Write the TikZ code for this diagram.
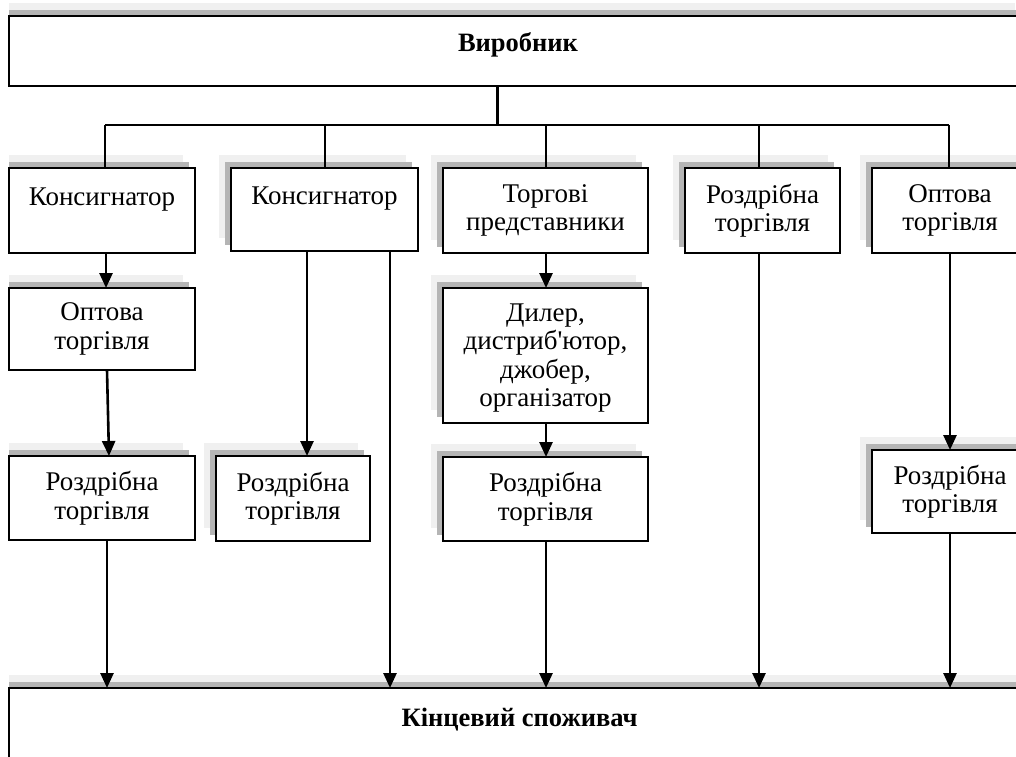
\documentclass[tikz,border=0pt]{standalone}
\usepackage{fontspec}
\setmainfont{Liberation Serif}
\usetikzlibrary{arrows.meta}
\definecolor{shlight}{gray}{0.94}
\definecolor{shdark}{gray}{0.71}
\tikzset{
  box/.style={draw, line width=2.2pt, fill=white, inner sep=0pt, outer sep=0pt, align=center,
    font=\fontsize{27}{28.5}\selectfont},
  bigbox/.style={box},
  boldtext/.style={font=\fontsize{26.5}{28}\selectfont\bfseries, anchor=base, inner sep=0pt},
  conn/.style={line width=2.2pt},
  arr/.style={line width=2.6pt, -{Triangle[length=15pt,width=13pt]}},
}
\newcommand{\shadowbox}[5]{%
  \fill[shlight] ({max(9,#1-12.5)},{#2-13}) rectangle ({#3-12.5},{#4-13});
  \fill[shdark] ({max(9,#1-6)},{#2-6}) rectangle ({#3-6},{#4-6});
  \node[#5, minimum width={#3-#1}, minimum height={#4-#2}] at ({(#1+#3)/2},{(#2+#4)/2})}
\begin{document}
\begin{tikzpicture}[x=1pt,y=-1pt]
\useasboundingbox (0,0) rectangle (1016,756);
\clip (0,0) rectangle (1016,756);
\fill[white] (0,0) rectangle (1016,756);
% top and bottom
\shadowbox{9}{16}{1027}{86}{bigbox} (vyr) {};
\node[boldtext] (vyrt) at (vyr.center |- 0,51) {Виробник};
\shadowbox{9}{688}{1030}{800}{bigbox} (kin) {};
\node[boldtext] (kint) at (kin.north |- 0,726) {Кінцевий споживач};
% column 1
\shadowbox{9}{168}{195}{253}{box} (k1) {Консигнатор\\\phantom{Х}};
\shadowbox{9}{288}{195}{370}{box} (o1) {Оптова\\торгівля};
\shadowbox{9}{456}{195}{540}{box} (r1) {Роздрібна\\торгівля};
% column 2
\shadowbox{231}{168}{418}{251}{box} (k2) {Консигнатор\\\phantom{Х}};
\shadowbox{216}{456}{370}{541}{box} (r2) {Роздрібна\\торгівля};
% column 3
\shadowbox{443}{168}{648}{253}{box} (t3) {Торгові\\представники};
\shadowbox{443}{288}{648}{423}{box} (d3) {\rule{0pt}{23pt}Дилер,\\дистриб\textquotesingle ютор,\\джобер,\\організатор};
\shadowbox{443}{457}{648}{541}{box} (r3) {Роздрібна\\торгівля};
% column 4
\shadowbox{685}{168}{840}{253}{box} (r4) {Роздрібна\\торгівля};
% column 5
\shadowbox{872}{168}{1028}{253}{box} (o5) {Оптова\\торгівля};
\shadowbox{872}{450}{1028}{533}{box} (r5) {Роздрібна\\торгівля};
% distribution bar
\coordinate (bar) at (497.5,125);
\coordinate (bl) at (105,125);
\coordinate (br) at (949,125);
\draw[conn] (vyr.south -| bar) -- (bar);
\draw[conn] (bl) -- (br);
\draw[conn] (bl) -- (bl |- k1.north);
\draw[conn] (bl -| 325,0) -- (k2.north -| 325,0);
\draw[conn] (bl -| 546,0) -- (t3.north -| 546,0);
\draw[conn] (bl -| 759,0) -- (r4.north -| 759,0);
\draw[conn] (br) -- (br |- o5.north);
% arrows
\draw[arr] (k1.south -| 106,0) -- (o1.north -| 106,0);
\draw[arr] (o1.south -| 107,0) -- (r1.north -| 109,0);
\draw[arr] (r1.south -| 107,0) -- (kin.north -| 107,0);
\draw[arr] (k2.south -| 307,0) -- (r2.north -| 307,0);
\draw[arr] (k2.south -| 390,0) -- (kin.north -| 390,0);
\draw[arr] (t3.south -| 546,0) -- (d3.north -| 546,0);
\draw[arr] (d3.south -| 546,0) -- (r3.north -| 546,0);
\draw[arr] (r3.south -| 546,0) -- (kin.north -| 546,0);
\draw[arr] (r4.south -| 759,0) -- (kin.north -| 759,0);
\draw[arr] (o5.south -| 950,0) -- (r5.north -| 950,0);
\draw[arr] (r5.south -| 950,0) -- (kin.north -| 950,0);
\end{tikzpicture}
\end{document}
